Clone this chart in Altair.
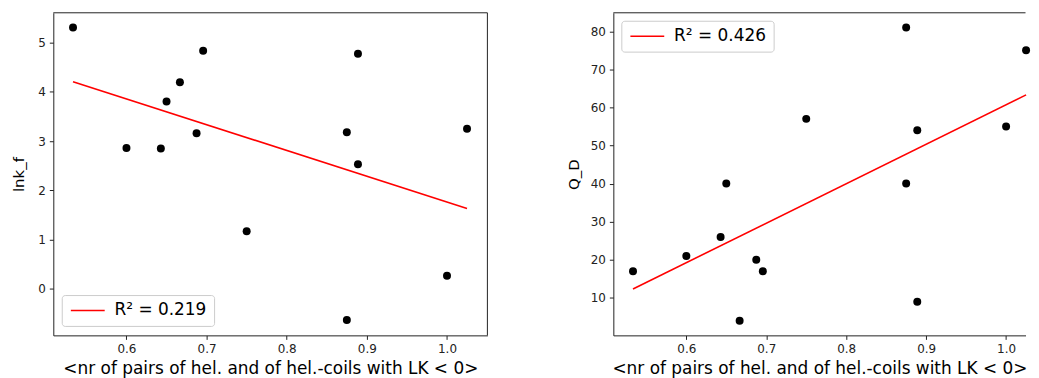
import altair as alt
import pandas as pd

# ---- data ----
x_vals = [0.5333, 0.6, 0.6429, 0.65, 0.6667, 0.6875, 0.6957, 0.75,
          0.875, 0.875, 0.8889, 0.8889, 1.0, 1.025]
lnkf = [5.30, 2.86, 2.85, 3.80, 4.19, 3.16, 4.83, 1.17,
        3.18, -0.63, 4.77, 2.53, 0.27, 3.25]
qd = [17, 21, 26, 40, 4, 20, 17, 57,
      81, 40, 54, 9, 55, 75]

x_ticks = [0.6, 0.7, 0.8, 0.9, 1.0]
left_y_ticks = [0, 1, 2, 3, 4, 5]
right_y_ticks = [10, 20, 30, 40, 50, 60, 70, 80]
left_label = "R² = 0.219"
right_label = "R² = 0.426"
x_title = "<nr of pairs of hel. and of hel.-coils with LK < 0>"

df_left = pd.DataFrame({"x": x_vals, "y": lnkf})
df_right = pd.DataFrame({"x": x_vals, "y": qd})
one_row = pd.DataFrame({"k": [0]})

FONT = "DejaVu Sans"
H = 324
FRAME = "#222222"


def panel(df, xdomain, width, ydomain, yticks, ytitle, label, legend_place,
          ytitle_pad, right_frame):
    x_scale = alt.Scale(domain=xdomain, nice=False, zero=False)
    y_scale = alt.Scale(domain=ydomain, nice=False, zero=False)
    x_axis = alt.Axis(values=x_ticks, format=".1f", title=x_title)
    y_axis = alt.Axis(values=yticks, format="d", title=ytitle, titlePadding=ytitle_pad)
    pts = alt.Chart(df).mark_circle(size=64, color="black", opacity=1).encode(
        x=alt.X("x:Q", scale=x_scale, axis=x_axis),
        y=alt.Y("y:Q", scale=y_scale, axis=y_axis),
    )
    line = (
        alt.Chart(df)
        .transform_regression("x", "y")
        .transform_calculate(lab=f"'{label}'")
        .mark_line(strokeWidth=1.6)
        .encode(
            x=alt.X("x:Q", scale=x_scale, axis=x_axis),
            y=alt.Y("y:Q", scale=y_scale, axis=y_axis),
            color=alt.Color(
                "lab:N",
                scale=alt.Scale(domain=[label], range=["red"]),
                legend=alt.Legend(
                    title=None,
                    symbolType="M-1.5,0H6.5",
                    symbolSize=72.25,
                    symbolStrokeWidth=1.6,
                    symbolStrokeColor="red",
                    symbolFillColor="transparent",
                    labelFontSize=17,
                    labelFont=FONT,
                    labelColor="black",
                    labelOffset=29,
                    padding=7,
                    fillColor="white",
                    strokeColor="#cccccc",
                    cornerRadius=3,
                    **legend_place,
                ),
            ),
        )
    )
    # top frame line (full-width rule), and right frame line for the left panel
    layers = [line, pts,
              alt.Chart(one_row).mark_rule(color=FRAME, strokeWidth=1).encode(y=alt.value(0))]
    if right_frame:
        layers.append(
            alt.Chart(one_row).mark_rule(color=FRAME, strokeWidth=1).encode(x=alt.value(width))
        )
    return alt.layer(*layers).properties(width=width, height=H)


left = panel(df_left, [0.5087, 1.0504], 436, [-0.94, 5.6], left_y_ticks, "lnk_f",
             left_label, {"orient": "none", "legendX": 8.5, "legendY": 283.5}, 11, True)
right = panel(df_right, [0.5087, 1.0243], 414, [0.15, 84.85], right_y_ticks, "Q_D",
              right_label, {"orient": "top-left", "offset": 8}, 9, False)

chart = (
    alt.hconcat(left, right, spacing=77.5)
    .resolve_scale(color="independent")
    .properties(padding={"left": 2.5, "top": 3, "right": 0, "bottom": 0})
    .configure_view(stroke="transparent")
    .configure_axis(
        grid=False,
        domain=True,
        domainColor=FRAME,
        domainWidth=1,
        tickSize=4,
        tickColor=FRAME,
        labelPadding=4,
        labelFont=FONT,
        labelFontSize=12,
        labelColor="#222222",
        titleFont=FONT,
        titleFontSize=17,
        titleFontWeight="normal",
        titleColor="black",
    )
    .configure_axisY(titleFontSize=15)
    .configure_axisX(titlePadding=6)
)

chart.save("out.html", embed_options={"renderer": "svg", "actions": False})
